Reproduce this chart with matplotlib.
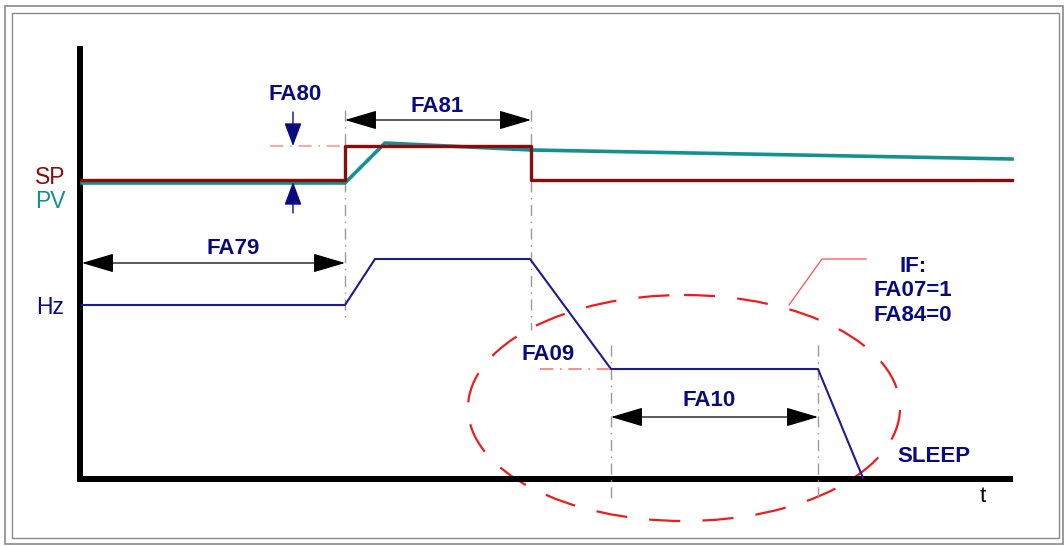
import matplotlib.pyplot as plt
from matplotlib.patches import Ellipse, Rectangle

# Waveforms (x = time in px units, y = level in px units, y grows downward)
sp_t = [82, 345, 345, 531, 531, 1012]
sp_y = [180, 180, 146, 146, 180, 180]

pv_t = [82, 345, 385, 531, 1012]
pv_y = [183, 183, 143, 150, 159]

hz_t = [82, 345, 375, 530, 611, 818, 863]
hz_y = [305, 305, 259, 259, 369, 369, 478]

# markers: vertical dash-dot guides (x, y_top, y_bottom)
guides = [(345, 110, 318), (531, 110, 330), (611, 345, 498), (818, 345, 498)]

# double-arrow spans (x_start, x_end, y, label, label_x, label_y)
spans = [
    (82, 345, 263, "FA79", 233, 248),
    (345, 531, 120, "FA81", 437, 106),
    (611, 818, 417, "FA10", 709, 400),
]

NAVY = "#0a0a80"
SP_COL = "#8b0a0a"
PV_COL = "#13918d"
HZ_COL = "#1c1c90"
FONT = "Liberation Sans"

fig = plt.figure(figsize=(10.64, 5.46), dpi=100)
ax = fig.add_axes([0, 0, 1, 1])
ax.set_xlim(0, 1064)
ax.set_ylim(546, 0)
ax.axis("off")

# frames
ax.add_patch(Rectangle((5, 6), 1058, 538, fill=False, ec="#8a8a8a", lw=1.2))
ax.add_patch(Rectangle((12, 13), 1047, 525, fill=False, ec="#8a8a8a", lw=1.0))

# axes lines
ax.plot([80, 80], [46, 482], color="black", lw=4.3, solid_capstyle="butt")
ax.plot([77, 1013], [479, 479], color="black", lw=4.3, solid_capstyle="butt")

# guides
for x, y0, y1 in guides:
    ax.plot([x, x], [y0, y1], color="#9a9a9a", lw=1.0, ls=(0, (8, 4, 1, 4)))

# waveforms
ax.plot(pv_t, pv_y, color=PV_COL, lw=2.6)
ax.plot(sp_t, sp_y, color=SP_COL, lw=2.4)
ax.plot(hz_t, hz_y, color=HZ_COL, lw=1.5)

# reference dash-dot lines
ax.plot([270, 345], [146, 146], color="#f0a090", lw=1.2, ls=(0, (8, 4, 1, 4)))
ax.plot([540, 611], [369, 369], color="#f08070", lw=1.2, ls=(0, (8, 4, 1, 4)))

# spans
for x0, x1, y, lab, lx, ly in spans:
    ax.annotate("", xy=(x1, y), xytext=(x0, y),
                arrowprops=dict(arrowstyle="<|-|>,head_length=1.35,head_width=0.4",
                                mutation_scale=15, color="black", lw=0.9,
                                shrinkA=0, shrinkB=0))
    ax.text(lx, ly, lab, color=NAVY, fontsize=16, fontweight="bold",
            ha="center", va="center", family=FONT)

# FA80 arrows
ax.annotate("", xy=(293, 146), xytext=(293, 112),
            arrowprops=dict(arrowstyle="-|>,head_length=1.2,head_width=0.45",
                            mutation_scale=12, color=NAVY, lw=1.0,
                            shrinkA=0, shrinkB=0))
ax.annotate("", xy=(293, 182), xytext=(293, 213),
            arrowprops=dict(arrowstyle="-|>,head_length=1.2,head_width=0.45",
                            mutation_scale=12, color=NAVY, lw=1.0,
                            shrinkA=0, shrinkB=0))
ax.text(295, 95, "FA80", color=NAVY, fontsize=16, fontweight="bold",
        ha="center", va="center", family=FONT)

# ellipse + callout
ax.add_patch(Ellipse((684, 408), 432, 226, fill=False, ec="#ee1c1c",
                     lw=1.6, ls=(0, (14, 10))))
ax.plot([789, 822, 866], [305, 259, 259], color="#ff5050", lw=0.9)
ax.text(913, 291, "IF:\nFA07=1\nFA84=0", color=NAVY, fontsize=16,
        fontweight="bold", ha="center", va="center", linespacing=1.2,
        family=FONT)

ax.text(548, 355, "FA09", color=NAVY, fontsize=16, fontweight="bold",
        ha="center", va="center", family=FONT)
ax.text(934, 456, "SLEEP", color=NAVY, fontsize=16, fontweight="bold",
        ha="center", va="center", family=FONT)
ax.text(983, 497, "t", color="black", fontsize=16, ha="center",
        va="center", family=FONT)

# axis labels
ax.text(50, 177, "SP", color=SP_COL, fontsize=16.5, ha="center", va="center",
        family=FONT)
ax.text(50, 202, "PV", color=PV_COL, fontsize=16.5, ha="center", va="center",
        family=FONT)
ax.text(50, 308, "Hz", color=NAVY, fontsize=16.5, ha="center", va="center",
        family=FONT)

fig.savefig("out.png", dpi=100)
